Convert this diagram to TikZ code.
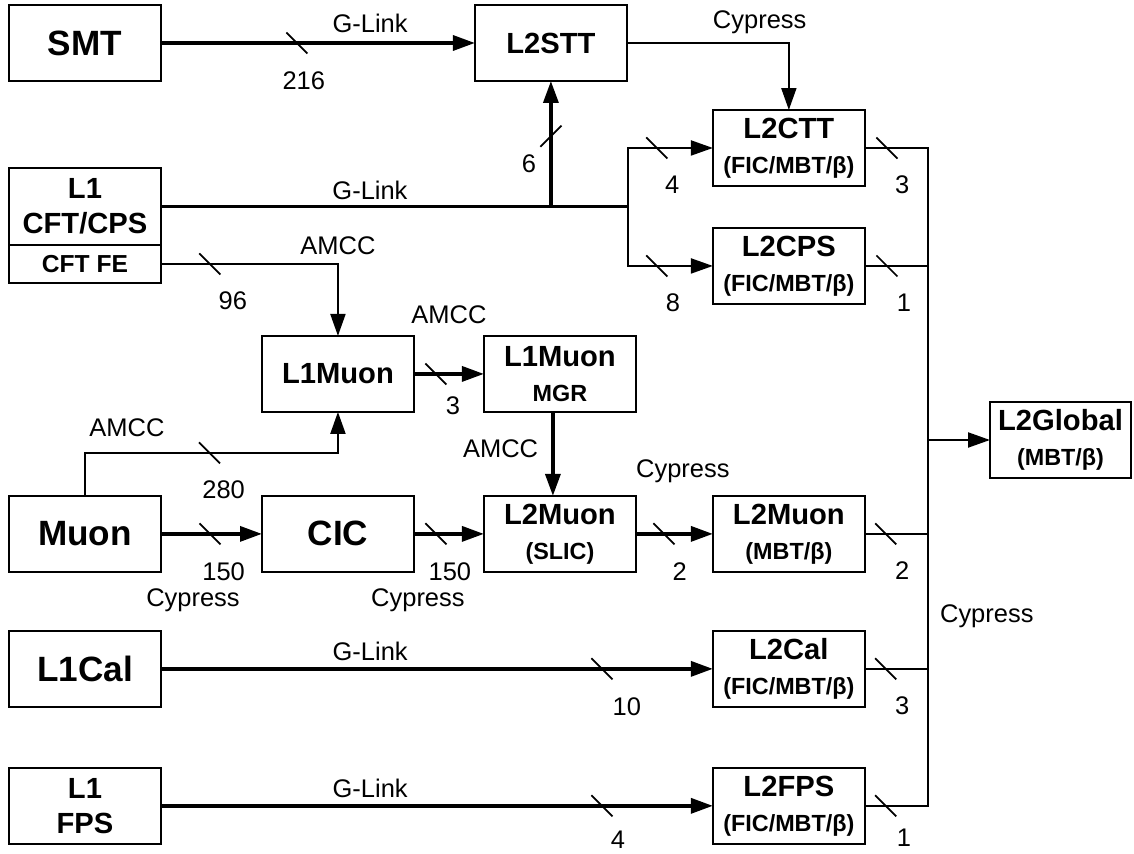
\documentclass[tikz,border=0pt]{standalone}
\usepackage{fontspec}
\setmainfont{Liberation Sans}
\usetikzlibrary{positioning,arrows.meta}
\newcommand{\hugef}{\fontsize{20}{22}\selectfont\bfseries}
\newcommand{\midf}{\fontsize{16.6}{20}\selectfont\bfseries}
\newcommand{\subf}{\fontsize{13.3}{17}\selectfont\bfseries}
\newcommand{\fef}{\fontsize{14}{16}\selectfont\bfseries}
\newcommand{\labf}{\fontsize{14.5}{16}\selectfont}
\tikzset{
  wslash/.pic={\draw[-, line width=1pt] (-6pt,6pt) -- (6pt,-6pt);}
}

\begin{document}
\begin{tikzpicture}[
  x=0.02cm, y=-0.02cm,
  box/.style={draw, line width=1.15pt, minimum width=3.04cm, minimum height=1.52cm, inner sep=0pt, outer sep=0pt, align=center, font=\midf},
  thk/.style={line width=2pt},
  thn/.style={line width=1.25pt},
  arr/.style={-{Triangle[length=12.5pt,width=8.5pt]}},
  lab/.style={font=\labf, inner sep=2pt},
  wnum/.style={font=\labf, inner sep=0pt, below=0.54cm}
]
  \useasboundingbox (0,0) rectangle (1134,854);

  % level 1 sources
  \node[box, font=\hugef] (smt) at (85,43) {SMT};
  \node[box, minimum height=1.54cm, below=1.74cm of smt] (l1cft) {L1\\CFT/CPS};
  \node[box, minimum height=0.76cm, font=\fef, below=0pt of l1cft] (cftfe) {CFT FE};
  \node[box, font=\hugef, below=4.26cm of cftfe] (muon) {Muon};
  \node[box, font=\hugef, below=1.18cm of muon] (l1cal) {L1Cal};
  \node[box, below=1.22cm of l1cal] (l1fps) {L1\\FPS};

  % middle column
  \node[box, right=6.28cm of smt] (stt) {L2STT};
  \node[box, font=\hugef, right=2.02cm of muon] (cic) {CIC};
  \node[box, right=1.40cm of cic] (slic) {L2Muon\\\subf (SLIC)};
  \node[box, above=1.68cm of cic] (l1muon) {L1Muon};
  \node[box, above=1.68cm of slic] (mgr) {L1Muon\\\subf MGR};

  % level 2 preprocessors
  \node[box, right=1.54cm of slic] (l2muon) {L2Muon\\\subf (MBT/β)};
  \node[box, above=3.84cm of l2muon] (l2cps) {L2CPS\\\subf (FIC/MBT/β)};
  \node[box, above=0.84cm of l2cps] (l2ctt) {L2CTT\\\subf (FIC/MBT/β)};
  \node[box, below=1.18cm of l2muon] (l2cal) {L2Cal\\\subf (FIC/MBT/β)};
  \node[box, below=1.22cm of l2cal] (l2fps) {L2FPS\\\subf (FIC/MBT/β)};
  \node[box, minimum width=2.82cm] (glob) at (1060.5,440) {L2Global\\\subf (MBT/β)};

  \coordinate (split) at (628,0 |- l1cft.east);
  \coordinate (bus) at (928,0 |- glob.west);

  % tracking
  \draw[thk, arr] (smt) -- pic[pos=.433]{wslash} node[pos=.455, wnum]{216} node[pos=.666, lab, above=0.1cm]{G-Link} (stt);
  \draw[thn, arr] (stt) -| node[pos=.41, lab, above=0.1cm]{Cypress} (l2ctt);
  \draw[thn] (l1cft) -- node[pos=.4475, lab, above=0.05cm]{G-Link} (split);
  \draw[thk, arr] (stt.south |- split) -- pic[pos=.56, sloped]{wslash} node[pos=.34, font=\labf, inner sep=0pt, left=0.26cm]{6} (stt);
  \draw[thn, arr] (split) |- pic[pos=.67]{wslash} node[pos=.76, wnum]{4} (l2ctt);
  \draw[thn, arr] (split) |- pic[pos=.67]{wslash} node[pos=.765, wnum]{8} (l2cps);

  % muon
  \draw[thn, arr] (cftfe) -| pic[pos=.138]{wslash} node[pos=.203, wnum]{96} node[pos=.5, lab, above=0.1cm]{AMCC} (l1muon);
  \draw[thn, arr] (muon.north) -- ++(0,-43) -| pic[pos=.246]{wslash} node[pos=.274, wnum]{280} node[pos=.083, lab, above=0.23cm]{AMCC} (l1muon);
  \draw[thk, arr] (l1muon) -- pic[pos=.314]{wslash} node[pos=.557, font=\labf, inner sep=0pt, below=0.42cm]{3} node[pos=.5, lab, above=0.89cm]{AMCC} (mgr);
  \draw[thk, arr] ([xshift=-0.14cm]mgr.south) -- node[pos=.44, lab, left=0.19cm]{AMCC} ([xshift=-0.14cm]slic.north);
  \draw[thk, arr] (muon) -- pic[pos=.485]{wslash} node[pos=.62, wnum]{150} node[pos=.317, lab, below=0.99cm]{Cypress} (cic);
  \draw[thk, arr] (cic) -- pic[pos=.314]{wslash} node[pos=.514, wnum]{150} node[pos=.057, lab, below=0.99cm]{Cypress} (slic);
  \draw[thk, arr] (slic) -- pic[pos=.364]{wslash} node[pos=.57, wnum]{2} node[pos=.61, lab, above=0.91cm]{Cypress} (l2muon);

  % calorimeter and preshower
  \draw[thk, arr] (l1cal) -- node[pos=.379, lab, above=0.06cm]{G-Link} pic[pos=.799]{wslash} node[pos=.844, wnum]{10} (l2cal);
  \draw[thk, arr] (l1fps) -- node[pos=.379, lab, above=0.06cm]{G-Link} pic[pos=.799]{wslash} node[pos=.828, wnum, below=0.46cm]{4} (l2fps);

  % Cypress bus to L2Global
  \draw[thn] (l2ctt) -- pic[pos=.35]{wslash} node[pos=.59, wnum]{3} (l2ctt.east -| bus)
    -- node[pos=.712, lab, right=0.15cm]{Cypress} (l2fps.east -| bus)
    -- pic[pos=.67]{wslash} node[pos=.38, wnum, below=0.44cm]{1} (l2fps);
  \draw[thn] (l2cps) -- pic[pos=.35]{wslash} node[pos=.62, wnum]{1} (l2cps.east -| bus);
  \draw[thn] (l2muon) -- pic[pos=.33]{wslash} node[pos=.59, wnum]{2} (l2muon.east -| bus);
  \draw[thn] (l2cal) -- pic[pos=.33]{wslash} node[pos=.59, wnum]{3} (l2cal.east -| bus);
  \draw[thn, arr] (bus) -- (glob);
\end{tikzpicture}
\end{document}
